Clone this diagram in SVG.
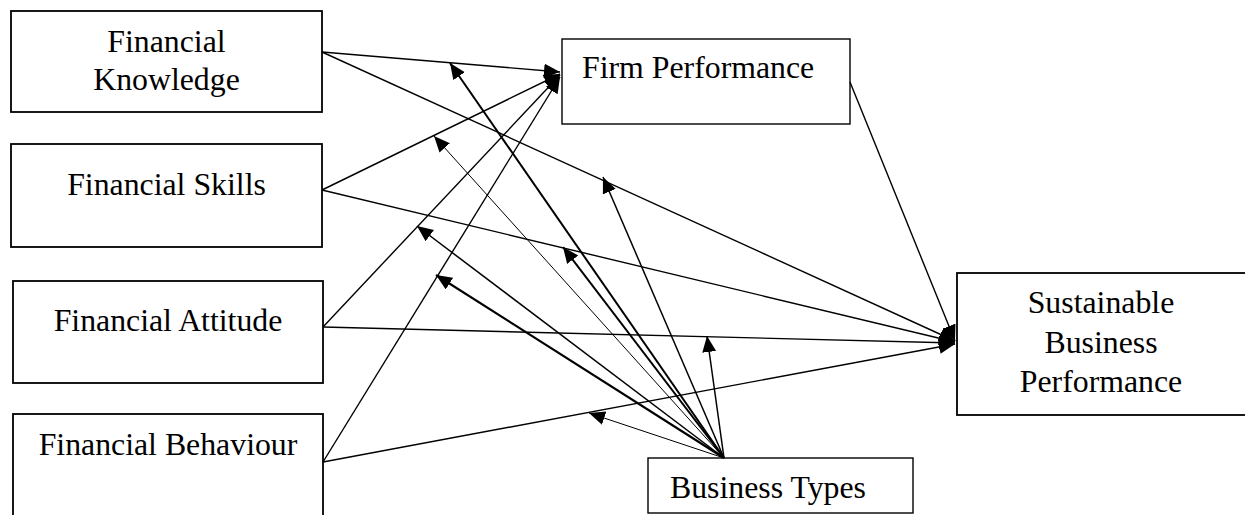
<svg xmlns="http://www.w3.org/2000/svg" width="1245" height="515" viewBox="0 0 1245 515">
<style>
.box{fill:#fff;stroke:#000;stroke-width:1.8}
.t{font-family:"Liberation Serif","Times New Roman",serif;font-size:31.8px;fill:#000}
.c{fill:none;stroke:#000;stroke-width:1.4}
</style>
<defs>
<marker id="ah" markerUnits="userSpaceOnUse" markerWidth="17" markerHeight="15" refX="16" refY="7" orient="auto">
<path d="M0,0 L16,7 L0,14 z" fill="#000"/>
</marker>
</defs>
<rect width="1245" height="515" fill="#fff"/>
<g id="fk"><rect class="box" x="11" y="11" width="311" height="101"/>
<text class="t" x="166.5" y="52" text-anchor="middle">Financial</text>
<text class="t" x="166.5" y="90" text-anchor="middle">Knowledge</text></g>
<g id="fs"><rect class="box" x="11" y="144" width="311" height="103"/>
<text class="t" x="166.5" y="195" text-anchor="middle">Financial Skills</text></g>
<g id="fa"><rect class="box" x="13" y="281" width="310" height="102"/>
<text class="t" x="168" y="331" text-anchor="middle">Financial Attitude</text></g>
<g id="fb"><rect class="box" x="13" y="414" width="310" height="112"/>
<text class="t" x="168" y="455" text-anchor="middle">Financial Behaviour</text></g>
<g id="fp"><rect class="box" x="562" y="39" width="288" height="85" style="stroke-width:1.4"/>
<text class="t" x="582" y="78">Firm Performance</text></g>
<g id="sbp"><rect class="box" x="957" y="273" width="290" height="142"/>
<text class="t" x="1101" y="313" text-anchor="middle">Sustainable</text>
<text class="t" x="1101" y="353" text-anchor="middle">Business</text>
<text class="t" x="1101" y="392" text-anchor="middle">Performance</text></g>
<g id="bt"><rect class="box" x="648" y="458" width="265" height="55" style="stroke-width:1.4"/>
<text class="t" x="670" y="498">Business Types</text></g>
<g id="connectors">
<line class="c" x1="322" y1="52" x2="560" y2="72" marker-end="url(#ah)"/>
<line class="c" x1="322" y1="190" x2="560" y2="74" marker-end="url(#ah)"/>
<line class="c" x1="323" y1="327" x2="560" y2="75" marker-end="url(#ah)"/>
<line class="c" x1="323" y1="462" x2="560" y2="77" marker-end="url(#ah)"/>
<line class="c" x1="322" y1="52" x2="955" y2="341" marker-end="url(#ah)"/>
<line class="c" x1="322" y1="190" x2="955" y2="342" marker-end="url(#ah)"/>
<line class="c" x1="323" y1="327" x2="955" y2="343" marker-end="url(#ah)"/>
<line class="c" x1="323" y1="462" x2="955" y2="344" marker-end="url(#ah)"/>
<line class="c" x1="850" y1="82" x2="955" y2="341" marker-end="url(#ah)"/>
<line class="c" x1="724" y1="458" x2="450" y2="63" marker-end="url(#ah)" style="stroke-width:2"/>
<line class="c" x1="724" y1="458" x2="434" y2="136" marker-end="url(#ah)" style="stroke-width:1"/>
<line class="c" x1="724" y1="458" x2="417" y2="226" marker-end="url(#ah)" style="stroke-width:1.5"/>
<line class="c" x1="724" y1="458" x2="436" y2="275" marker-end="url(#ah)" style="stroke-width:2.2"/>
<line class="c" x1="724" y1="458" x2="563" y2="247" marker-end="url(#ah)" style="stroke-width:2"/>
<line class="c" x1="724" y1="458" x2="603" y2="177" marker-end="url(#ah)" style="stroke-width:1.5"/>
<line class="c" x1="724" y1="458" x2="707" y2="336" marker-end="url(#ah)" style="stroke-width:1.5"/>
<line class="c" x1="724" y1="458" x2="589" y2="413" marker-end="url(#ah)" style="stroke-width:1"/>
</g>
</svg>
